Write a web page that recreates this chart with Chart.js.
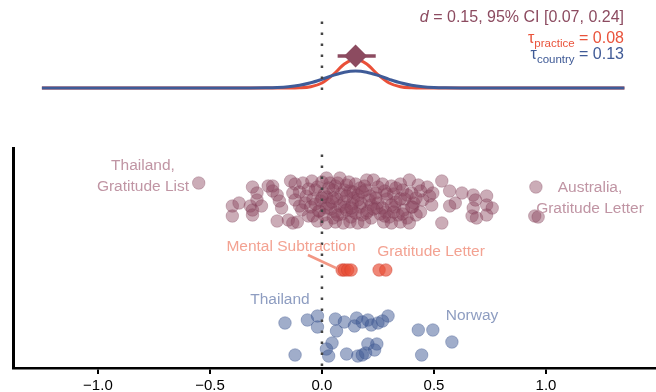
<!DOCTYPE html>
<html>
<head>
<meta charset="utf-8">
<script src="https://cdn.jsdelivr.net/npm/chart.js@4.4.1/dist/chart.umd.min.js"></script>
<style>
  body { margin: 0; background: #fff; }
  #wrap { position: relative; width: 656px; height: 392px; font-family: "Liberation Sans", Arial, Helvetica, sans-serif; }
  canvas { position: absolute; left: 0; }
  .lbl { position: absolute; width: 220px; text-align: center; font-size: 15.5px; line-height: 21px; white-space: nowrap; }
  .stat { position: absolute; right: 32px; text-align: right; white-space: nowrap; line-height: 16px; }
  .stat sub { font-size: 11.5px; vertical-align: -4px; line-height: 0; }
</style>
</head>
<body>
<div id="wrap">
  <canvas id="top" width="656" height="100" style="top:0"></canvas>
  <canvas id="bottom" width="656" height="292" style="top:100px"></canvas>

  <div class="stat" style="top:9px; font-size:16px; color:#8c4b60;"><i>d</i> = 0.15, 95% CI [0.07, 0.24]</div>
  <div class="stat" style="top:30px; font-size:16px; color:#e9533b;">τ<sub>practice</sub> = 0.08</div>
  <div class="stat" style="top:46px; font-size:16px; color:#3f5a96;">τ<sub>country</sub> = 0.13</div>

  <div class="lbl" style="left:33px; top:154px; color:#c095a4;">Thailand,<br>Gratitude List</div>
  <div class="lbl" style="left:480px; top:176px; color:#c095a4;">Australia,<br>Gratitude Letter</div>
  <div class="lbl" style="left:181px; top:235px; color:#f3a292;">Mental Subtraction</div>
  <div class="lbl" style="left:321px; top:240px; color:#f3a292;">Gratitude Letter</div>
  <div class="lbl" style="left:170px; top:288px; color:#8e9dc1;">Thailand</div>
  <div class="lbl" style="left:362px; top:304px; color:#8e9dc1;">Norway</div>
</div>

<script>
// x axis
const tickValues = [-1, -0.5, 0, 0.5, 1];
const tickLabels = ["\u22121.0", "\u22120.5", "0.0", "0.5", "1.0"];

// summary estimate (top panel)
const summaryD = [0.15];
const summaryH = [32];
const ciBounds = [0.07, 0.24];

// density curves (height above baseline)
const practiceCurveX = [-1.25, -0.15, -0.1, -0.05, 0, 0.05, 0.1, 0.15, 0.2, 0.25, 0.3, 0.35, 0.4, 0.45, 1.35];
const practiceCurveH = [0, 0, 0.2, 1.3, 5.0, 13.3, 23.9, 29, 23.9, 13.3, 5.0, 1.3, 0.2, 0, 0];
const countryCurveX = [-1.25, -0.35, -0.25, -0.2, -0.15, -0.1, -0.05, 0, 0.05, 0.1, 0.15, 0.2, 0.25, 0.3, 0.35, 0.4, 0.45, 0.5, 0.55, 0.65, 1.35];
const countryCurveH = [0, 0, 0.15, 0.45, 1.2, 2.7, 5.2, 8.7, 12.6, 15.8, 17, 15.8, 12.6, 8.7, 5.2, 2.7, 1.2, 0.45, 0.15, 0, 0];

// study-level effects [d, jitter]
const studies = [
  [-0.55, 18.5], [-0.40, 16.2], [-0.37, 16.5], [-0.40, 15.2], [-0.32, 16.2], [-0.31, 15.8], [-0.31, 15.3],
  [-0.31, 18.1], [-0.29, 17.5], [-0.29, 16.8], [-0.22, 18.2], [-0.22, 17.7], [-0.20, 17.3], [-0.19, 16.7],
  [-0.18, 16.0], [-0.20, 14.7], [-0.14, 18.7], [-0.13, 14.5], [-0.15, 14.8], [-0.10, 16.2], [-0.06, 15.2],
  [-0.02, 14.7], [-0.01, 15.7], [-0.24, 18.2], [-0.27, 16.2],
  [-0.12, 18.4], [-0.085, 18.5], [-0.045, 18.7], [0.00, 18.6], [0.036, 18.5], [0.07, 18.5], [0.11, 18.3],
  [0.15, 18.4], [0.20, 18.8], [0.23, 18.8], [0.27, 18.4], [0.31, 18.2], [0.35, 18.4], [0.39, 18.8],
  [0.43, 18.3], [0.47, 18.1],
  [-0.13, 17.5], [-0.10, 17.6], [-0.07, 17.2], [-0.03, 17.8], [0.01, 17.4], [0.05, 17.8], [0.085, 17.4],
  [0.125, 17.7], [0.16, 17.3], [0.195, 17.8], [0.24, 17.5], [0.28, 17.7], [0.32, 17.4], [0.36, 17.8],
  [0.40, 17.5], [0.44, 17.7], [0.48, 17.2],
  [-0.12, 16.8], [-0.075, 16.5], [-0.04, 16.9], [-0.005, 16.7], [0.03, 16.4], [0.065, 16.9], [0.10, 16.6],
  [0.14, 17.0], [0.175, 16.5], [0.21, 16.8], [0.25, 16.5], [0.29, 16.9], [0.33, 16.6], [0.37, 16.9],
  [0.41, 16.5], [0.45, 16.8],
  [-0.09, 15.8], [-0.05, 16.1], [-0.015, 15.7], [0.02, 16.0], [0.06, 15.6], [0.10, 16.1], [0.135, 15.7],
  [0.17, 16.1], [0.205, 15.7], [0.245, 16.0], [0.285, 15.6], [0.325, 16.1], [0.365, 15.8], [0.405, 16.1],
  [0.44, 15.6],
  [-0.04, 15.2], [0.01, 15.3], [0.05, 15.0], [0.09, 15.4], [0.13, 15.1], [0.18, 15.3], [0.22, 15.0],
  [0.26, 15.4], [0.30, 15.1], [0.34, 15.3], [0.38, 15.0], [0.42, 15.3],
  [-0.11, 14.6], [0.02, 14.5], [0.06, 14.6], [0.095, 14.5], [0.125, 14.6], [0.16, 14.5], [0.19, 14.6],
  [0.275, 14.6], [0.31, 14.5], [0.35, 14.6], [0.39, 14.5],
  [-0.02, 18.1], [0.02, 17.1], [0.06, 18.2], [0.10, 17.8], [0.135, 16.4], [0.17, 18.0], [0.215, 17.2],
  [0.25, 18.1], [0.11, 17.2], [0.04, 15.9], [0.15, 15.5], [0.08, 19.0], [0.02, 19.0],
  [0.03, 18.0], [0.05, 17.0], [0.08, 16.2], [0.12, 18.6], [0.14, 17.6], [0.16, 16.8], [0.19, 18.2],
  [0.22, 16.3], [0.24, 17.0], [0.27, 16.0], [0.29, 17.4], [0.31, 16.3], [0.33, 18.0], [0.35, 16.9],
  [0.38, 17.3], [0.40, 16.1], [0.42, 17.0], [0.07, 15.3], [0.11, 15.8], [0.20, 15.5], [0.23, 15.9],
  [0.28, 15.2], [0.32, 15.6], [0.36, 15.4], [-0.03, 16.4], [-0.06, 17.9], [0.00, 17.0], [0.045, 16.6],
  [0.13, 16.0], [0.18, 17.6],
  [0.535, 18.7], [0.495, 17.5], [0.57, 17.7], [0.625, 17.5], [0.595, 16.5], [0.57, 16.2], [0.675, 17.3],
  [0.685, 16.8], [0.735, 17.2], [0.735, 16.3], [0.76, 16.0], [0.675, 16.0], [0.67, 15.2], [0.69, 15.0],
  [0.735, 15.3], [0.535, 14.5], [0.49, 16.3], [0.955, 18.1], [0.95, 15.2], [0.965, 15.1]
];

// practice-level effects [d, jitter]
const practices = [[0.09, 9.8], [0.10, 9.8], [0.115, 9.8], [0.13, 9.8], [0.255, 9.8], [0.285, 9.8]];

// country-level effects [d, jitter]
const countries = [
  [-0.165, 4.5], [-0.12, 1.3], [-0.065, 4.8], [-0.02, 5.2], [-0.02, 4.1], [0.06, 4.9], [0.10, 4.6],
  [0.155, 5.0], [0.145, 4.2], [0.205, 4.8], [0.22, 4.3], [0.25, 4.5], [0.295, 5.2], [0.065, 3.7],
  [0.045, 2.5], [0.02, 1.9], [0.03, 1.2], [0.11, 1.4], [0.16, 1.2], [0.18, 1.3], [0.195, 1.5],
  [0.205, 2.4], [0.245, 2.4], [0.235, 1.8], [0.43, 3.8], [0.495, 3.8], [0.58, 2.6], [0.445, 1.3],
  [0.27, 4.7], [0.18, 4.6]
];

// pointer line from "Mental Subtraction" label
const pointerX = [-0.0625, 0.0625];
const pointerY = [11.3, 10.0];

const X_MIN = -1.379;
const X_MAX = 1.491;
const FONT = "'Liberation Sans', Arial, Helvetica, sans-serif";

const pairs = list => list.map(p => ({ x: p[0], y: p[1] }));
const zip = (xs, ys) => xs.map((x, i) => ({ x, y: ys[i] }));

const common = {
  responsive: false,
  animation: false,
  events: [],
  plugins: { legend: { display: false }, tooltip: { enabled: false } }
};

// top panel: densities + summary diamond
new Chart(document.getElementById("top"), {
  type: "scatter",
  data: {
    datasets: [
      {
        data: zip([0, 0], [-2, 70]), showLine: true, pointRadius: 0,
        borderColor: "#444", borderWidth: 2.5, borderDash: [2.5, 8.5]
      },
      {
        data: zip(summaryD, summaryH), pointStyle: "rectRot", pointRadius: 11.5,
        backgroundColor: "#8c4b60", borderWidth: 0
      },
      {
        data: zip(ciBounds, [summaryH[0], summaryH[0]]), showLine: true, pointRadius: 0,
        borderColor: "#8c4b60", borderWidth: 3.5
      },
      {
        data: zip(countryCurveX, countryCurveH), showLine: true, pointRadius: 0,
        borderColor: "#3f5b98", borderWidth: 3, cubicInterpolationMode: "monotone"
      },
      {
        data: zip(practiceCurveX, practiceCurveH), showLine: true, pointRadius: 0,
        borderColor: "#ea5038", borderWidth: 3, cubicInterpolationMode: "monotone"
      }
    ]
  },
  options: {
    ...common,
    layout: { autoPadding: false, padding: { left: 13, right: 0, top: 0, bottom: 0 } },
    scales: {
      x: { display: false, min: X_MIN, max: X_MAX },
      y: { display: false, min: -12, max: 88 }
    }
  }
});

// bottom panel: individual effects
new Chart(document.getElementById("bottom"), {
  type: "scatter",
  data: {
    datasets: [
      {
        data: zip([0, 0], [0.2, 21.8]), showLine: true, pointRadius: 0,
        borderColor: "#444", borderWidth: 2.5, borderDash: [2.5, 8.5]
      },
      {
        data: zip(pointerX, pointerY), showLine: true, pointRadius: 0,
        borderColor: "#f29784", borderWidth: 2.5
      },
      {
        data: pairs(practices), pointRadius: 6.3, borderWidth: 0.8,
        backgroundColor: "rgba(233,78,55,0.68)", borderColor: "rgba(200,60,45,0.5)"
      },
      {
        data: pairs(countries), pointRadius: 6.3, borderWidth: 0.8,
        backgroundColor: "rgba(66,92,150,0.5)", borderColor: "rgba(50,75,135,0.4)"
      },
      {
        data: pairs(studies), pointRadius: 6.3, borderWidth: 0.8,
        backgroundColor: "rgba(139,72,95,0.45)", borderColor: "rgba(120,55,80,0.35)"
      }
    ]
  },
  options: {
    ...common,
    layout: { autoPadding: false, padding: { left: 0, right: 0, top: 48, bottom: 0 } },
    scales: {
      x: {
        type: "linear", min: X_MIN, max: X_MAX,
        afterBuildTicks: s => { s.ticks = tickValues.map(v => ({ value: v })); },
        afterFit: s => { s.height = 24; },
        ticks: {
          callback: (v, i) => tickLabels[i], color: "#000", padding: 3,
          maxRotation: 0, autoSkip: false, font: { family: FONT, size: 15 }
        },
        grid: { display: true, drawOnChartArea: false, drawTicks: true, tickLength: 6, color: "#000", lineWidth: 2 },
        border: { display: true, color: "#000", width: 2.5 }
      },
      y: {
        min: 0, max: 22,
        afterFit: s => { s.width = 13; },
        ticks: { display: false },
        grid: { display: false },
        border: { display: true, color: "#000", width: 3 }
      }
    }
  }
});
</script>
</body>
</html>
